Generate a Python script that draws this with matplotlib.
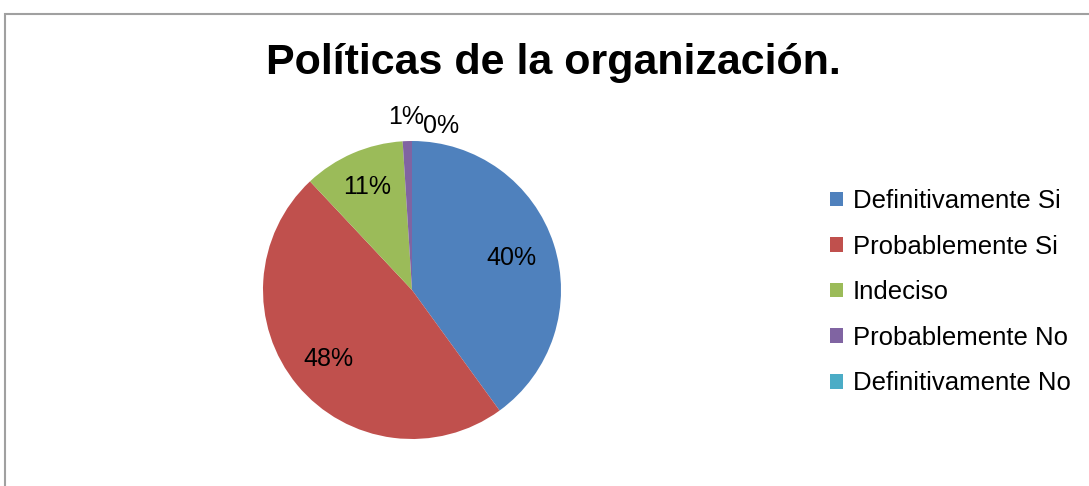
import numpy as np
import matplotlib.pyplot as plt
from matplotlib.patches import Rectangle, Patch

plt.rcParams['font.family'] = ['Liberation Sans', 'DejaVu Sans']

categories = ['Definitivamente Si', 'Probablemente Si', 'Indeciso',
              'Probablemente No', 'Definitivamente No']
values = [40, 48, 11, 1, 0]
colors = ['#4F81BD', '#C0504D', '#9BBB59', '#8064A2', '#4BACC6']

W, H = 1089, 486
fig = plt.figure(figsize=(W / 100, H / 100), dpi=100)

# outer chart frame (extends past right/bottom edges like the reference crop)
fig.add_artist(Rectangle((5 / W, -0.1), 1.1, 1.1 - 14 / H, transform=fig.transFigure,
                         fill=False, edgecolor='#a0a0a0', linewidth=1.5))

cx, cy, r = 412, 290, 149
ax = fig.add_axes([(cx - r) / W, (H - cy - r) / H, 2 * r / W, 2 * r / H])
wedges, texts, autotexts = ax.pie(values, colors=colors, startangle=90, counterclock=False,
                                  autopct='%.0f%%', pctdistance=0.72,
                                  wedgeprops=dict(linewidth=0),
                                  textprops=dict(fontsize=18, color='black'))
ax.set_xlim(-1, 1)
ax.set_ylim(-1, 1)

# per-label distance / angle nudges to mimic the Excel placement
dist = [0.70, 0.73, 0.75, 1.16, 1.12]
nudge = [0, 0, 0, 0, -10]
for w, t, d, n in zip(wedges, autotexts, dist, nudge):
    ang = np.deg2rad((w.theta1 + w.theta2) / 2 + n)
    t.set_position((d * np.cos(ang), d * np.sin(ang)))

fig.text(553 / W, 1 - 74 / H, 'Políticas de la organización.', ha='center', va='baseline',
         fontsize=31, fontweight='bold')

handles = [Patch(facecolor=c, edgecolor='none') for c in colors]
fig.legend(handles, categories, loc='upper left', bbox_to_anchor=(830 / W, 1 - 189 / H),
           frameon=False, fontsize=18.5, borderpad=0, borderaxespad=0,
           handlelength=0.5, handleheight=0.5, handletextpad=0.38, labelspacing=0.84)

fig.savefig('out.png', dpi=100)
